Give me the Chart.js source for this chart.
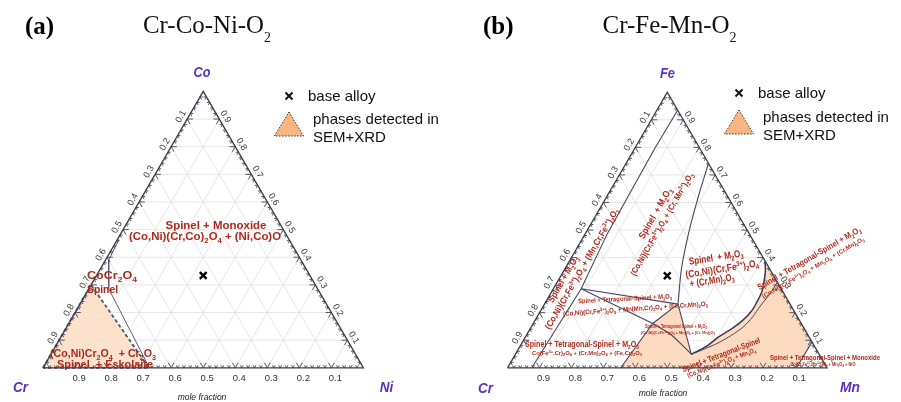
<!DOCTYPE html>
<html><head><meta charset="utf-8">
<script src="https://cdn.jsdelivr.net/npm/chart.js@4.4.1/dist/chart.umd.min.js"></script>
<style>
html,body{margin:0;padding:0;background:#fff;}
#wrap{position:relative;width:901px;height:402px;overflow:hidden;background:#fff;}
canvas{position:absolute;top:0;}
</style></head><body>
<div id="wrap">
<canvas id="ca" width="450" height="402" style="left:0px"></canvas>
<canvas id="cb" width="451" height="402" style="left:450px"></canvas>
</div>
<script>
// ================= DATA =================
const tickValues = [0.1, 0.2, 0.3, 0.4, 0.5, 0.6, 0.7, 0.8, 0.9];
const tickLabels = ['0.1', '0.2', '0.3', '0.4', '0.5', '0.6', '0.7', '0.8', '0.9'];

// Panel (a): compositions as [Cr, Co, Ni]
const aVertices = ['Cr', 'Co', 'Ni'];
const aBaseAlloy = [[0.333, 0.334, 0.333]];
const aSpinelEskolaite = [[1, 0, 0], [0.70, 0.30, 0], [0.67, 0, 0.33], [1, 0, 0]];
const aSpinelBoundary = [[0.53, 0.465, 0.005], [0.60, 0.39, 0.01], [0.652, 0.286, 0.062], [0.668, 0, 0.332]];

// Panel (b): compositions as [Cr, Fe, Mn]
const bVertices = ['Cr', 'Fe', 'Mn'];
const bBaseAlloy = [[0.333, 0.334, 0.333]];
const bLineM2O3Left = [[0, 0.935, 0.065], [0.136, 0.801, 0.063], [0.29, 0.644, 0.066], [0.445, 0.486, 0.069], [0.626, 0.287, 0.087], [0.924, 0, 0.076]];
const bLineM2O3Right = [[0, 0.742, 0.258], [0.075, 0.644, 0.281], [0.178, 0.504, 0.318], [0.273, 0.364, 0.363], [0.351, 0.231, 0.418]];
const bLineP1J1 = [[0.626, 0.287, 0.087], [0.351, 0.231, 0.418]];
const bLineP1Q = [[0.626, 0.287, 0.087], [0.465, 0.161, 0.374]];
const bLineQJ2 = [[0.465, 0.161, 0.374], [0.445, 0.140, 0.415], [0.428, 0.120, 0.452], [0.413, 0.085, 0.502], [0.40, 0.049, 0.551]];
const bLineJ1J2 = [[0.351, 0.231, 0.418], [0.40, 0.049, 0.551]];
const bCurveOuter = [[0.40, 0.049, 0.551], [0.335, 0.080, 0.585], [0.283, 0.112, 0.605], [0.225, 0.143, 0.632], [0.178, 0.172, 0.650], [0.132, 0.207, 0.661], [0.098, 0.241, 0.661], [0.065, 0.277, 0.658], [0.042, 0.311, 0.647], [0.018, 0.350, 0.632], [0, 0.388, 0.612]];
const bCurveInner = [[0.40, 0.049, 0.551], [0.345, 0.070, 0.585], [0.294, 0.091, 0.615], [0.240, 0.118, 0.642], [0.19, 0.147, 0.663], [0.140, 0.185, 0.675], [0.097, 0.224, 0.679], [0.045, 0.268, 0.687], [0, 0.311, 0.689]];
const bLineMnCorner = [[0, 0.094, 0.906], [0.095, 0, 0.905]];
const bRegionLow = [[0.6455, 0, 0.3545], [0.465, 0.161, 0.374], [0.351, 0.231, 0.418], [0.40, 0.049, 0.551]];
const bRegionRight = [[0, 0.094, 0.906], [0.095, 0, 0.905], [0.6455, 0, 0.3545]];

// ================= GEOMETRY HELPERS =================
const S3 = Math.sqrt(3) / 2;
function cart(t) { return { x: t[2] + t[1] / 2, y: t[1] * S3 }; }
const GAP = { x: NaN, y: NaN };
function multi(lines) { const out = []; lines.forEach((l, i) => { if (i) out.push(GAP); l.forEach(p => out.push(p)); }); return out; }
function lineDS(data, color, width, extra) {
  return Object.assign({ data, showLine: true, borderColor: color, borderWidth: width, pointRadius: 0, pointHoverRadius: 0, pointHitRadius: 0, fill: false, tension: 0, spanGaps: false }, extra || {});
}
function gridLines() {
  const L = [];
  tickValues.forEach(v => {
    L.push([cart([1 - v, v, 0]), cart([0, v, 1 - v])]);
    L.push([cart([1 - v, 0, v]), cart([0, 1 - v, v])]);
    L.push([cart([v, 1 - v, 0]), cart([v, 0, 1 - v])]);
  });
  return multi(L);
}
function tickMarks() {
  const L = [];
  for (let i = 1; i < 50; i++) {
    const v = i / 50, major = i % 5 === 0, len = major ? 0.018 : 0.009;
    let p = { x: v, y: 0 };
    L.push([{ x: p.x - 0.5 * len, y: p.y + S3 * len }, p, { x: p.x + 0.5 * len, y: p.y + S3 * len }]);
    p = { x: v / 2, y: v * S3 };
    L.push([{ x: p.x + len, y: p.y }, p, { x: p.x + 0.5 * len, y: p.y - S3 * len }]);
    p = { x: 1 - v / 2, y: v * S3 };
    L.push([{ x: p.x - len, y: p.y }, p, { x: p.x - 0.5 * len, y: p.y - S3 * len }]);
  }
  return multi(L);
}
const edges = [cart([1, 0, 0]), cart([0, 1, 0]), cart([0, 0, 1]), cart([1, 0, 0])];

// ================= RICH TEXT =================
const SANS = '"Liberation Sans", Arial, Helvetica, sans-serif';
const SERIF = '"Liberation Serif", "Times New Roman", serif';
function richParts(str) {
  const parts = []; let i = 0, buf = '';
  while (i < str.length) {
    const c = str[i];
    if ((c === '_' || c === '^') && str[i + 1] === '{') {
      if (buf) { parts.push({ t: buf, m: 0 }); buf = ''; }
      const j = str.indexOf('}', i);
      parts.push({ t: str.slice(i + 2, j), m: c === '_' ? 1 : 2 });
      i = j + 1;
    } else { buf += c; i++; }
  }
  if (buf) parts.push({ t: buf, m: 0 });
  return parts;
}
function drawRich(ctx, str, x, y, o) {
  const size = o.size, fam = o.family || SANS;
  const subScale = o.subScale || 0.68, subDrop = o.subDrop || 0.26;
  const pre = (o.style || 'normal') + ' ' + (o.weight || 'normal') + ' ';
  const parts = richParts(str);
  let total = 0;
  parts.forEach(p => { p.s = p.m ? size * subScale : size; ctx.font = pre + p.s.toFixed(2) + 'px ' + fam; p.w = ctx.measureText(p.t).width; total += p.w; });
  ctx.save();
  ctx.translate(x, y);
  if (o.rot) ctx.rotate(o.rot * Math.PI / 180);
  if (o.w) ctx.scale(o.w / total, 1);
  let cx = o.align === 'left' ? 0 : -total / 2;
  ctx.fillStyle = o.color || '#000';
  ctx.textBaseline = 'alphabetic';
  ctx.textAlign = 'left';
  const base = size * 0.36;
  parts.forEach(p => {
    ctx.font = pre + p.s.toFixed(2) + 'px ' + fam;
    const dy = p.m === 1 ? size * subDrop : (p.m === 2 ? -size * 0.36 : 0);
    ctx.fillText(p.t, cx, base + dy);
    cx += p.w;
  });
  ctx.restore();
}

// ================= PANEL CONFIG (layout) =================
const RED = '#ad2a1c';
const PURPLE = '#5b30c2';
const panelA = {
  id: 'ca', x0: 37, W: 331, base: 374,
  tag: '(a)', tagX: 25, title: 'Cr-Co-Ni-O_{2}', titleX: 207, titleW: 128,
  vertices: aVertices,
  vpos: [[20.5, 387, 15], [202, 72, 17], [386.5, 387, 13.5]], vsize: 14,
  moleY: 397, moleX: 202,
  legend: { crossX: 289, crossY: 96, textX: 308, triX: 289, triTop: 112, triBot: 136, triHalf: 14.5, t2y: 119, t3y: 137 },
  labels: [
    ['Spinel + Monoxide', 216, 225, 11.5, 0, 101],
    ['(Co,Ni)(Cr,Co)_{2}O_{4} + (Ni,Co)O', 205, 236, 11.5, 0, 152],
    ['CoCr_{2}O_{4}', 112, 275, 11.5, 0, 50],
    ['Spinel', 102.5, 289, 11.5, 0, 31],
    ['(Co,Ni)Cr_{2}O_{4}  + Cr_{2}O_{3}', 103, 353, 11.5, 0, 106],
    ['Spinel  + Eskolaite', 105, 363.5, 11.5, 0, 96]
  ]
};
const panelB = {
  id: 'cb', x0: 52, W: 330, base: 374,
  tag: '(b)', tagX: 33, title: 'Cr-Fe-Mn-O_{2}', titleX: 219.5, titleW: 134,
  vertices: bVertices,
  vpos: [[35.5, 387.5, 15], [217.5, 72.5, 15], [400, 387, 20]], vsize: 15,
  moleY: 393, moleX: 213,
  legend: { crossX: 289, crossY: 93, textX: 308, triX: 289, triTop: 110, triBot: 134, triHalf: 14.5, t2y: 117, t3y: 135 },
  labels: [
    ['Spinel + M_{2}O_{3}', 113, 279, 9, -60, 52],
    ['(Co,Ni)(Cr,Fe^{3+})_{2}O_{4} + (Mn,Cr,Fe^{3+})_{2}O_{3}', 131.5, 268.5, 9, -60, 138],
    ['Spinel  + M_{2}O_{3}', 205, 213, 9.5, -60, 57],
    ['(Co,Ni)(Cr,Fe^{3+})_{2}O_{4} + (Cr, Mn^{3+})_{2}O_{3}', 211.5, 224, 8.5, -60, 117],
    ['Spinel  + M_{2}O_{3}', 266, 257, 10, -9, 55],
    ['(Co,Ni)(Cr,Fe^{3+})_{2}O_{4}', 272, 268.5, 10, -9, 74],
    ['+ (Cr,Mn)_{2}O_{3}', 262, 280, 10, -9, 45],
    ['Spinel + Tetragonal-Spinel + M_{2}O_{3}', 175, 298.5, 6.5, -3, 94],
    ['(Co,Ni)(Cr,Fe^{3+})_{2}O_{3} + Mn(Mn,Cr)_{2}O_{4} + (Fe,Cr,Mn)_{2}O_{3}', 185.5, 308.5, 6.5, -4, 145],
    ['Spinel + Tetragonal-Spinel + M_{2}O_{3}', 226, 326, 4.6, 0, 62],
    ['(Co,Ni)(Cr,Fe^{3+})_{2}O_{4} + Mn_{3}O_{4} + (Cr, Mn)_{2}O_{3}', 228, 332.5, 4.4, 0, 74],
    ['Spinel + Tetragonal-Spinel + M_{2}O_{3}', 132, 344, 8.5, 0, 114],
    ['Co(Fe^{3+},Cr)_{2}O_{4} + (Cr,Mn)_{2}O_{4} + (Fe,Cr)_{2}O_{3}', 137, 352.5, 6, 0, 110],
    ['Spinel + Tetragonal-Spinel', 271, 354.5, 8.5, -21, 83],
    ['(Co,Ni)(Cr,Fe^{3+})_{2}O_{4} + Mn_{3}O_{4}', 271.5, 362.5, 6.5, -21, 73],
    ['Spinel + Tetragonal-Spinel + M_{2}O_{3}', 359, 258, 8.5, -30, 118],
    ['(Co,Ni)(Cr,Fe^{3+})_{2}O_{4} + Mn_{3}O_{4} + (Cr,Mn)_{2}O_{3}', 363, 267.5, 6, -30, 117],
    ['Spinel + Tetragonal-Spinel + Monoxide', 375, 357, 8, 0, 110],
    ['Co(Cr,Fe^{3+},Mn^{3+})_{2}O_{4} + Mn_{3}O_{4} + NiO', 373, 364, 4.5, 0, 65]
  ]
};

function drawPanelText(chart, P) {
  const ctx = chart.ctx, xs = chart.scales.x, ys = chart.scales.y;
  const px = c => [xs.getPixelForValue(c.x), ys.getPixelForValue(c.y)];
  ctx.save();
  // titles
  drawRich(ctx, P.tag, P.tagX, 24.5, { size: 25, weight: 'bold', family: SERIF, align: 'left', color: '#000' });
  drawRich(ctx, P.title, P.titleX, 24, { size: 25, family: SERIF, color: '#111', w: P.titleW, subScale: 0.56, subDrop: 0.34 });
  // vertex labels
  P.vertices.forEach((v, i) => {
    const q = P.vpos[i];
    drawRich(ctx, v, q[0], q[1], { size: P.vsize, weight: 'bold', style: 'italic', color: PURPLE, w: q[2] });
  });
  // tick labels
  tickValues.forEach((k, i) => {
    let p = px({ x: 1 - k, y: 0 });
    drawRich(ctx, tickLabels[i], p[0] + 4, p[1] + 9.5, { size: 9.5, color: '#333' });
    p = px({ x: (1 - k) / 2, y: (1 - k) * S3 });
    drawRich(ctx, tickLabels[i], p[0] - 6.8, p[1] - 2.8, { size: 9, color: '#333', rot: -60 });
    p = px({ x: 1 - k / 2, y: k * S3 });
    drawRich(ctx, tickLabels[i], p[0] + 7, p[1] - 2.8, { size: 9, color: '#333', rot: 60 });
  });
  drawRich(ctx, 'mole fraction', P.moleX, P.moleY, { size: 8.5, style: 'italic', color: '#222' });
  // region labels
  P.labels.forEach(L => drawRich(ctx, L[0], L[1], L[2], { size: L[3], weight: 'bold', color: RED, rot: L[4], w: L[5] }));
  // legend
  const g = P.legend;
  ctx.strokeStyle = '#111'; ctx.lineWidth = 2;
  ctx.beginPath();
  ctx.moveTo(g.crossX - 3.5, g.crossY - 3.5); ctx.lineTo(g.crossX + 3.5, g.crossY + 3.5);
  ctx.moveTo(g.crossX + 3.5, g.crossY - 3.5); ctx.lineTo(g.crossX - 3.5, g.crossY + 3.5);
  ctx.stroke();
  drawRich(ctx, 'base alloy', g.textX, g.crossY, { size: 15, align: 'left', color: '#111' });
  ctx.beginPath();
  ctx.moveTo(g.triX, g.triTop); ctx.lineTo(g.triX + g.triHalf, g.triBot); ctx.lineTo(g.triX - g.triHalf, g.triBot); ctx.closePath();
  ctx.fillStyle = '#fbb581'; ctx.fill();
  ctx.setLineDash([1.5, 1.5]); ctx.lineWidth = 1; ctx.strokeStyle = '#333'; ctx.stroke(); ctx.setLineDash([]);
  drawRich(ctx, 'phases detected in', g.textX + 5, g.t2y, { size: 15, align: 'left', color: '#111' });
  drawRich(ctx, 'SEM+XRD', g.textX + 5, g.t3y, { size: 15, align: 'left', color: '#111' });
  ctx.restore();
}

function makePanel(P, datasets) {
  const canvas = document.getElementById(P.id);
  const cw = canvas.width, ch = canvas.height;
  const base = [
    lineDS(gridLines(), '#e0e0e0', 0.8, { order: 30 }),
    lineDS(edges, '#3a3a4a', 1.3, { order: 3 }),
    lineDS(tickMarks(), '#444455', 0.9, { order: 4 })
  ];
  return new Chart(canvas, {
    type: 'scatter',
    data: { datasets: base.concat(datasets) },
    options: {
      responsive: false, animation: false, events: [],
      layout: { padding: 0 },
      scales: {
        x: { type: 'linear', display: false, min: -P.x0 / P.W, max: (cw - P.x0) / P.W },
        y: { type: 'linear', display: false, min: -(ch - P.base) / P.W, max: P.base / P.W }
      },
      plugins: { legend: { display: false }, tooltip: { enabled: false } }
    },
    plugins: [{ id: 'txt' + P.id, afterDatasetsDraw(chart) { drawPanelText(chart, P); } }]
  });
}

function basePoint(list) {
  return { data: list.map(cart), showLine: false, pointStyle: 'crossRot', pointRadius: 4.8, borderWidth: 2.4, borderColor: '#000', backgroundColor: '#000', order: 0 };
}

// Panel (a)
makePanel(panelA, [
  lineDS(aSpinelEskolaite.map(cart), '#555560', 1.8, { fill: 'shape', backgroundColor: 'rgba(253,222,196,0.85)', borderDash: [3.5, 2.5], order: 20 }),
  lineDS(aSpinelBoundary.map(cart), '#5a5a78', 1.0, { order: 10 }),
  basePoint(aBaseAlloy)
]);

// Panel (b)
const bOrange = bRegionLow.concat(bCurveOuter.slice(1), bRegionRight);
makePanel(panelB, [
  lineDS(bOrange.map(cart), 'rgba(0,0,0,0)', 0, { fill: 'shape', backgroundColor: 'rgba(252,215,186,0.9)', order: 20 }),
  lineDS(bLineM2O3Left.map(cart), '#45455f', 1.1, { order: 10 }),
  lineDS(bLineM2O3Right.map(cart), '#45455f', 1.1, { order: 10, tension: 0.3 }),
  lineDS(bLineP1J1.map(cart), '#45455f', 1.1, { order: 10 }),
  lineDS(bLineP1Q.map(cart), '#45455f', 1.1, { order: 10 }),
  lineDS(bLineQJ2.map(cart), '#45455f', 1.1, { order: 10, tension: 0.3 }),
  lineDS(bLineJ1J2.map(cart), '#45455f', 1.1, { order: 10 }),
  lineDS([bRegionLow[0], bRegionLow[1], bRegionLow[2]].map(cart), '#45455f', 1.1, { order: 10 }),
  lineDS(bCurveOuter.map(cart), '#3a3a55', 1.5, { order: 10, tension: 0.3 }),
  lineDS(bCurveInner.map(cart), '#45455f', 1.0, { order: 10, tension: 0.3 }),
  lineDS(bLineMnCorner.map(cart), '#45455f', 1.1, { order: 10 }),
  basePoint(bBaseAlloy)
]);
</script>
</body></html>
